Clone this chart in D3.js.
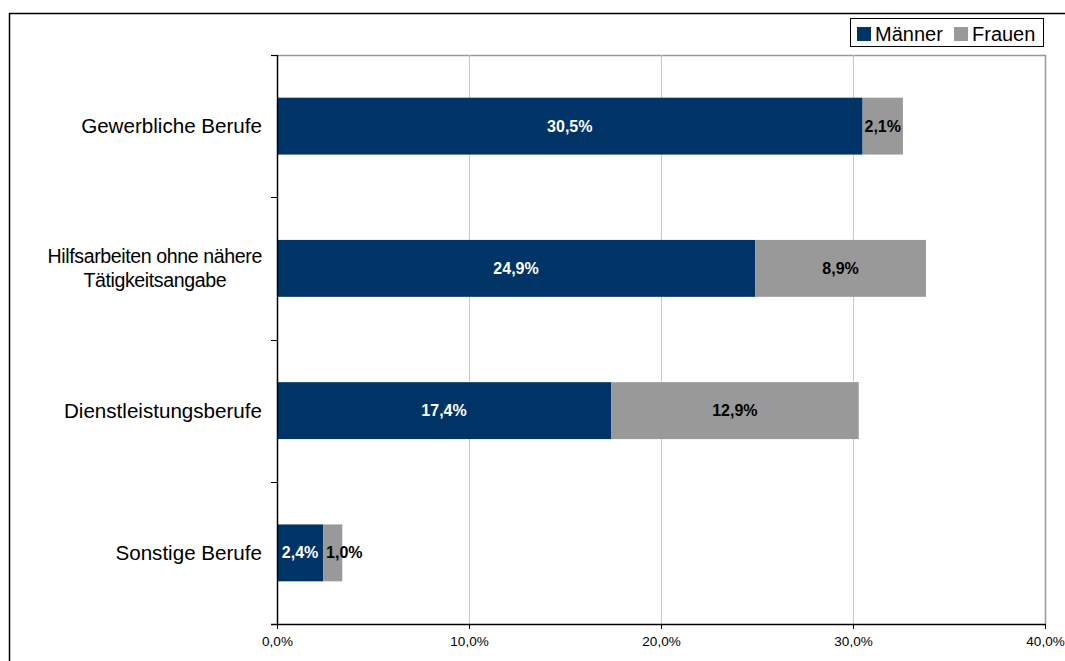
<!DOCTYPE html>
<html><head><meta charset="utf-8">
<script src="https://cdn.jsdelivr.net/npm/d3@7"></script>
<style>body{margin:0;background:#fff;}svg{display:block;font-family:"Liberation Sans",Arial,sans-serif;}</style>
</head><body>
<svg id="c" width="1065" height="661"></svg>
<script>
const categories = ["Gewerbliche Berufe", "Hilfsarbeiten ohne nähere|Tätigkeitsangabe", "Dienstleistungsberufe", "Sonstige Berufe"];
const maenner = [30.5, 24.9, 17.4, 2.4];
const frauen = [2.1, 8.9, 12.9, 1.0];
const seriesNames = ["Männer", "Frauen"];
const ticks = [0, 10, 20, 30, 40];

(function(){
const colors = ["#003366", "#999999"];
const svg = d3.select("#c");
const fmt = v => d3.format(".1f")(v).replace(".", ",") + "%";

// outer frame
svg.append("path").attr("d", "M9.5,661 L9.5,13.5 L1065,13.5").attr("fill","none").attr("stroke","#000").attr("stroke-width",1.5);

const pl = 277, pr = 1045, pt = 55, pb = 624;
const x = d3.scaleLinear().domain([0, 40]).range([pl, pr]);
const y = d3.scaleBand().domain(categories).range([pt, pb]).paddingInner(0.6).paddingOuter(0.3);

// plot border (gray)
svg.append("path").attr("d", `M${pl-6},${pt+0.5} L${pr+0.5},${pt+0.5} L${pr+0.5},${pb}`).attr("fill","none").attr("stroke","#999").attr("stroke-width",1.5);

// gridlines
svg.append("g").selectAll("line").data(ticks.slice(1,-1)).join("line")
  .attr("x1", d => Math.round(x(d))+0.5).attr("x2", d => Math.round(x(d))+0.5)
  .attr("y1", pt).attr("y2", pb).attr("stroke", "#c8c8c8").attr("stroke-width",1);

// bars
const stackData = categories.map((c,i)=>({cat:c, m:maenner[i], f:frauen[i]}));
const g = svg.append("g");
const labelLayer = svg.append("g");
stackData.forEach(d => {
  const yy = y(d.cat), h = y.bandwidth();
  const segs = [[0, d.m, "#fff"], [d.m, d.m + d.f, "#000"]];
  segs.forEach((s, k) => {
    g.append("rect").attr("x", x(s[0])).attr("y", yy).attr("width", x(s[1]) - x(s[0])).attr("height", h).attr("fill", colors[k]);
  });
  segs.forEach((s, k) => {
    const t = labelLayer.append("text").attr("y", yy + h/2).attr("dy","0.35em")
      .attr("fill", s[2]).attr("font-weight","bold").attr("font-size",16).text(fmt(s[1] - s[0]));
    const w = t.node().getComputedTextLength();
    const bw = x(s[1]) - x(s[0]);
    if (w > bw) t.attr("x", x(s[0]) + 3).attr("text-anchor","start");
    else t.attr("x", (x(s[0]) + x(s[1]))/2).attr("text-anchor","middle");
  });
});

// y axis
svg.append("line").attr("x1", pl+0.5).attr("x2", pl+0.5).attr("y1", pt).attr("y2", pb).attr("stroke","#000").attr("stroke-width",1.5);
const bounds = [pt, ...categories.map(c => y(c)+y.bandwidth()+y.step()*y.paddingInner()/2).slice(0,-1), pb];
svg.append("g").selectAll("line").data(bounds).join("line")
  .attr("x1", pl-6).attr("x2", pl).attr("y1", d=>Math.round(d)+0.5).attr("y2", d=>Math.round(d)+0.5).attr("stroke","#000").attr("stroke-width",1);
// category labels (multi-line centred, block right-aligned)
categories.forEach(c => {
  const lines = c.split("|");
  const cy = y(c)+y.bandwidth()/2;
  const multi = lines.length > 1;
  const t = svg.append("text").attr("font-size", multi ? 19.6 : 20.6).attr("letter-spacing", multi ? -0.4 : 0).attr("fill","#000");
  const spans = lines.map((l,i) => t.append("tspan").attr("y", cy + (i-(lines.length-1)/2)*24).attr("dy","0.35em").text(l));
  const widths = spans.map(s => s.node().getComputedTextLength());
  const maxW = Math.max(...widths);
  spans.forEach((s,i) => s.attr("x", 262 - maxW/2).attr("text-anchor","middle"));
});

// x axis
const xAxis = d3.axisBottom(x).tickValues(ticks).tickSize(5).tickFormat(fmt);
const ax = svg.append("g").attr("transform", `translate(0,${pb})`).call(xAxis);
ax.select(".domain").attr("stroke","#000").attr("stroke-width",1.5).attr("d", `M${pl-6},0.5H${pr}`);
ax.selectAll(".tick line").attr("stroke","#000");
ax.selectAll(".tick text").attr("font-size",13.5).attr("font-family","'Liberation Sans Narrow','Liberation Sans',Arial,sans-serif")
  .attr("font-stretch","condensed").attr("fill","#000").attr("dy","1.0em");

// legend
const lg = svg.append("g");
lg.append("rect").attr("x",850.5).attr("y",18.5).attr("width",193).attr("height",28).attr("fill","#fff").attr("stroke","#000").attr("stroke-width",1);
const lx = [857, 954];
seriesNames.forEach((s,i) => {
  lg.append("rect").attr("x", lx[i]).attr("y", 27).attr("width", 14).attr("height", 14).attr("fill", colors[i]);
  lg.append("text").attr("x", lx[i]+18).attr("y", 33.5).attr("dy","0.35em").attr("font-size",20).text(s);
});
})();
</script>
</body></html>
